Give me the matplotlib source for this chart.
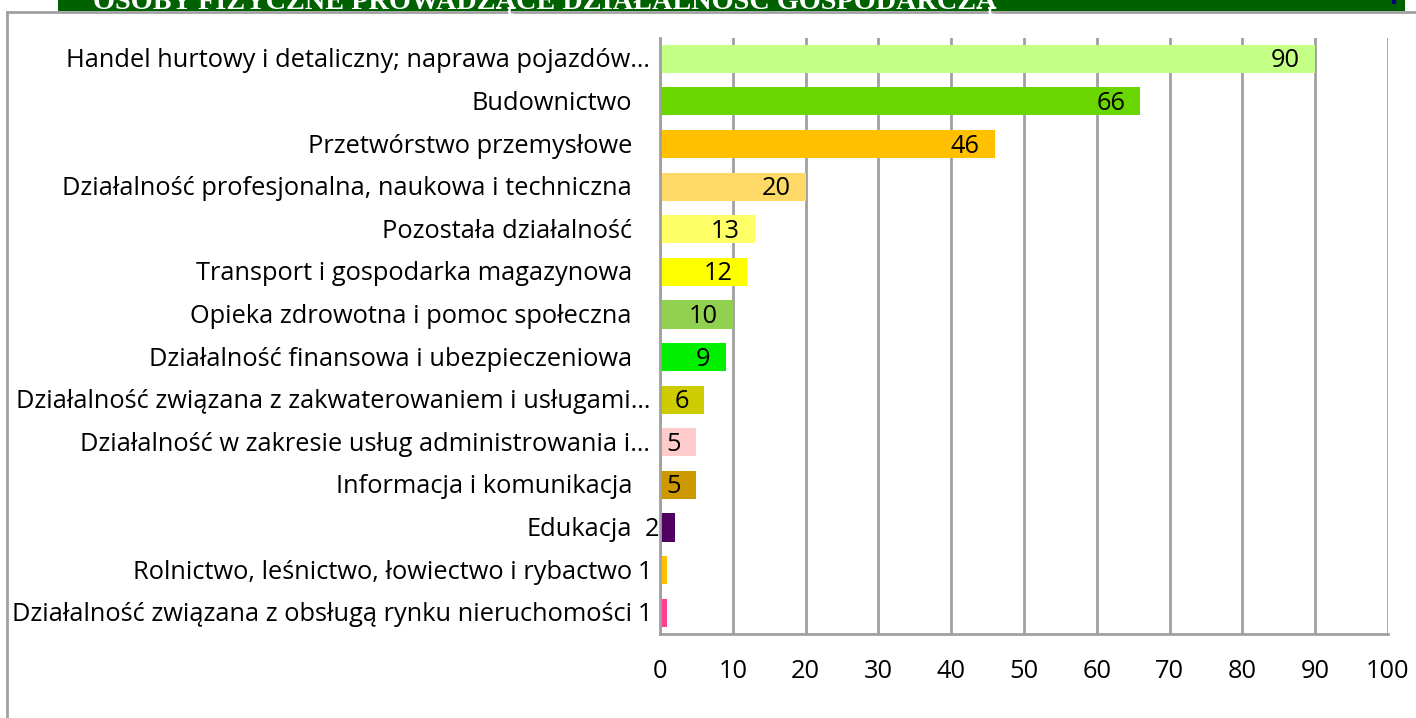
import matplotlib
matplotlib.use("Agg")
import matplotlib.pyplot as plt
from matplotlib.patches import Rectangle
from matplotlib.lines import Line2D
import matplotlib.transforms as mtransforms

categories = [
    "Handel hurtowy i detaliczny; naprawa pojazdów…",
    "Budownictwo",
    "Przetwórstwo przemysłowe",
    "Działalność profesjonalna, naukowa i techniczna",
    "Pozostała działalność",
    "Transport i gospodarka magazynowa",
    "Opieka zdrowotna i pomoc społeczna",
    "Działalność finansowa i ubezpieczeniowa",
    "Działalność związana z zakwaterowaniem i usługami…",
    "Działalność w zakresie usług administrowania i…",
    "Informacja i komunikacja",
    "Edukacja",
    "Rolnictwo, leśnictwo, łowiectwo i rybactwo",
    "Działalność związana z obsługą rynku nieruchomości",
]
values = [90, 66, 46, 20, 13, 12, 10, 9, 6, 5, 5, 2, 1, 1]
colors = ["#C4FF86", "#6AD600", "#FFC000", "#FFD966", "#FFFF66", "#FFFF00",
          "#92D050", "#00F000", "#CCCC00", "#FFCCCC", "#CC9900", "#4F0060",
          "#FFC000", "#FF4090"]
xticks = [0, 10, 20, 30, 40, 50, 60, 70, 80, 90, 100]
title = "OSOBY FIZYCZNE PROWADZĄCE DZIAŁALNOŚĆ GOSPODARCZĄ"

FONT = "Open Sans"
FS = 18.3
GRID = "#A0A0A0"

fig = plt.figure(figsize=(14.16, 7.18), dpi=100)
ax = fig.add_axes([660/1416, 1 - 634/718, (1388-660)/1416, (634-37.5)/718])

n = len(categories)
ypos = list(range(n))
ax.barh(ypos, values, height=0.66, color=colors, zorder=3)
ax.set_ylim(n - 0.5, -0.5)
ax.set_xlim(0, 100)
ax.set_xticks(xticks)
ax.set_xticklabels([str(t) for t in xticks], fontname=FONT, fontsize=FS)
ax.tick_params(axis="x", length=0, pad=18)
ax.set_yticks([])
ax.grid(axis="x", color=GRID, linewidth=2, zorder=0)
for s in ["top", "right"]:
    ax.spines[s].set_visible(False)
for s in ["left", "bottom"]:
    ax.spines[s].set_color(GRID)
    ax.spines[s].set_linewidth(2)
    ax.spines[s].set_zorder(4)

trans = mtransforms.blended_transform_factory(ax.transAxes, ax.transData)
for i, (cat, v) in enumerate(zip(categories, values)):
    off = -10 if cat.endswith("…") else -28
    t = mtransforms.offset_copy(trans, fig=fig, x=off, y=-2, units="dots")
    ax.text(0, i, cat, transform=t, ha="right", va="center",
            fontname=FONT, fontsize=FS, color="#000000")
    tv = mtransforms.offset_copy(ax.transData, fig=fig, x=-15, y=-2, units="dots")
    ax.text(v, i, str(v), transform=tv, ha="right", va="center",
            fontname=FONT, fontsize=FS, color="#000000", zorder=5)

# outer frame and banner
fig.add_artist(Line2D([7/1416, 1], [1 - 12/718, 1 - 12/718], color=GRID, linewidth=2,
                      transform=fig.transFigure))
fig.add_artist(Line2D([7/1416, 7/1416], [0, 1 - 12/718], color=GRID, linewidth=2,
                      transform=fig.transFigure))
fig.add_artist(Rectangle((58/1416, 1 - 11/718), (1405-58)/1416, 11/718,
                         facecolor="#006100", edgecolor="none", transform=fig.transFigure))
fig.add_artist(Rectangle((1392/1416, 1 - 4/718), 4/1416, 4/718,
                         facecolor="#000080", edgecolor="none", transform=fig.transFigure))
fig.text(93/1416, 1 - 9/718, title, ha="left", va="baseline", color="white",
         fontname="Liberation Serif", fontweight="bold", fontsize=20.3)

fig.savefig("out.png", dpi=100)
